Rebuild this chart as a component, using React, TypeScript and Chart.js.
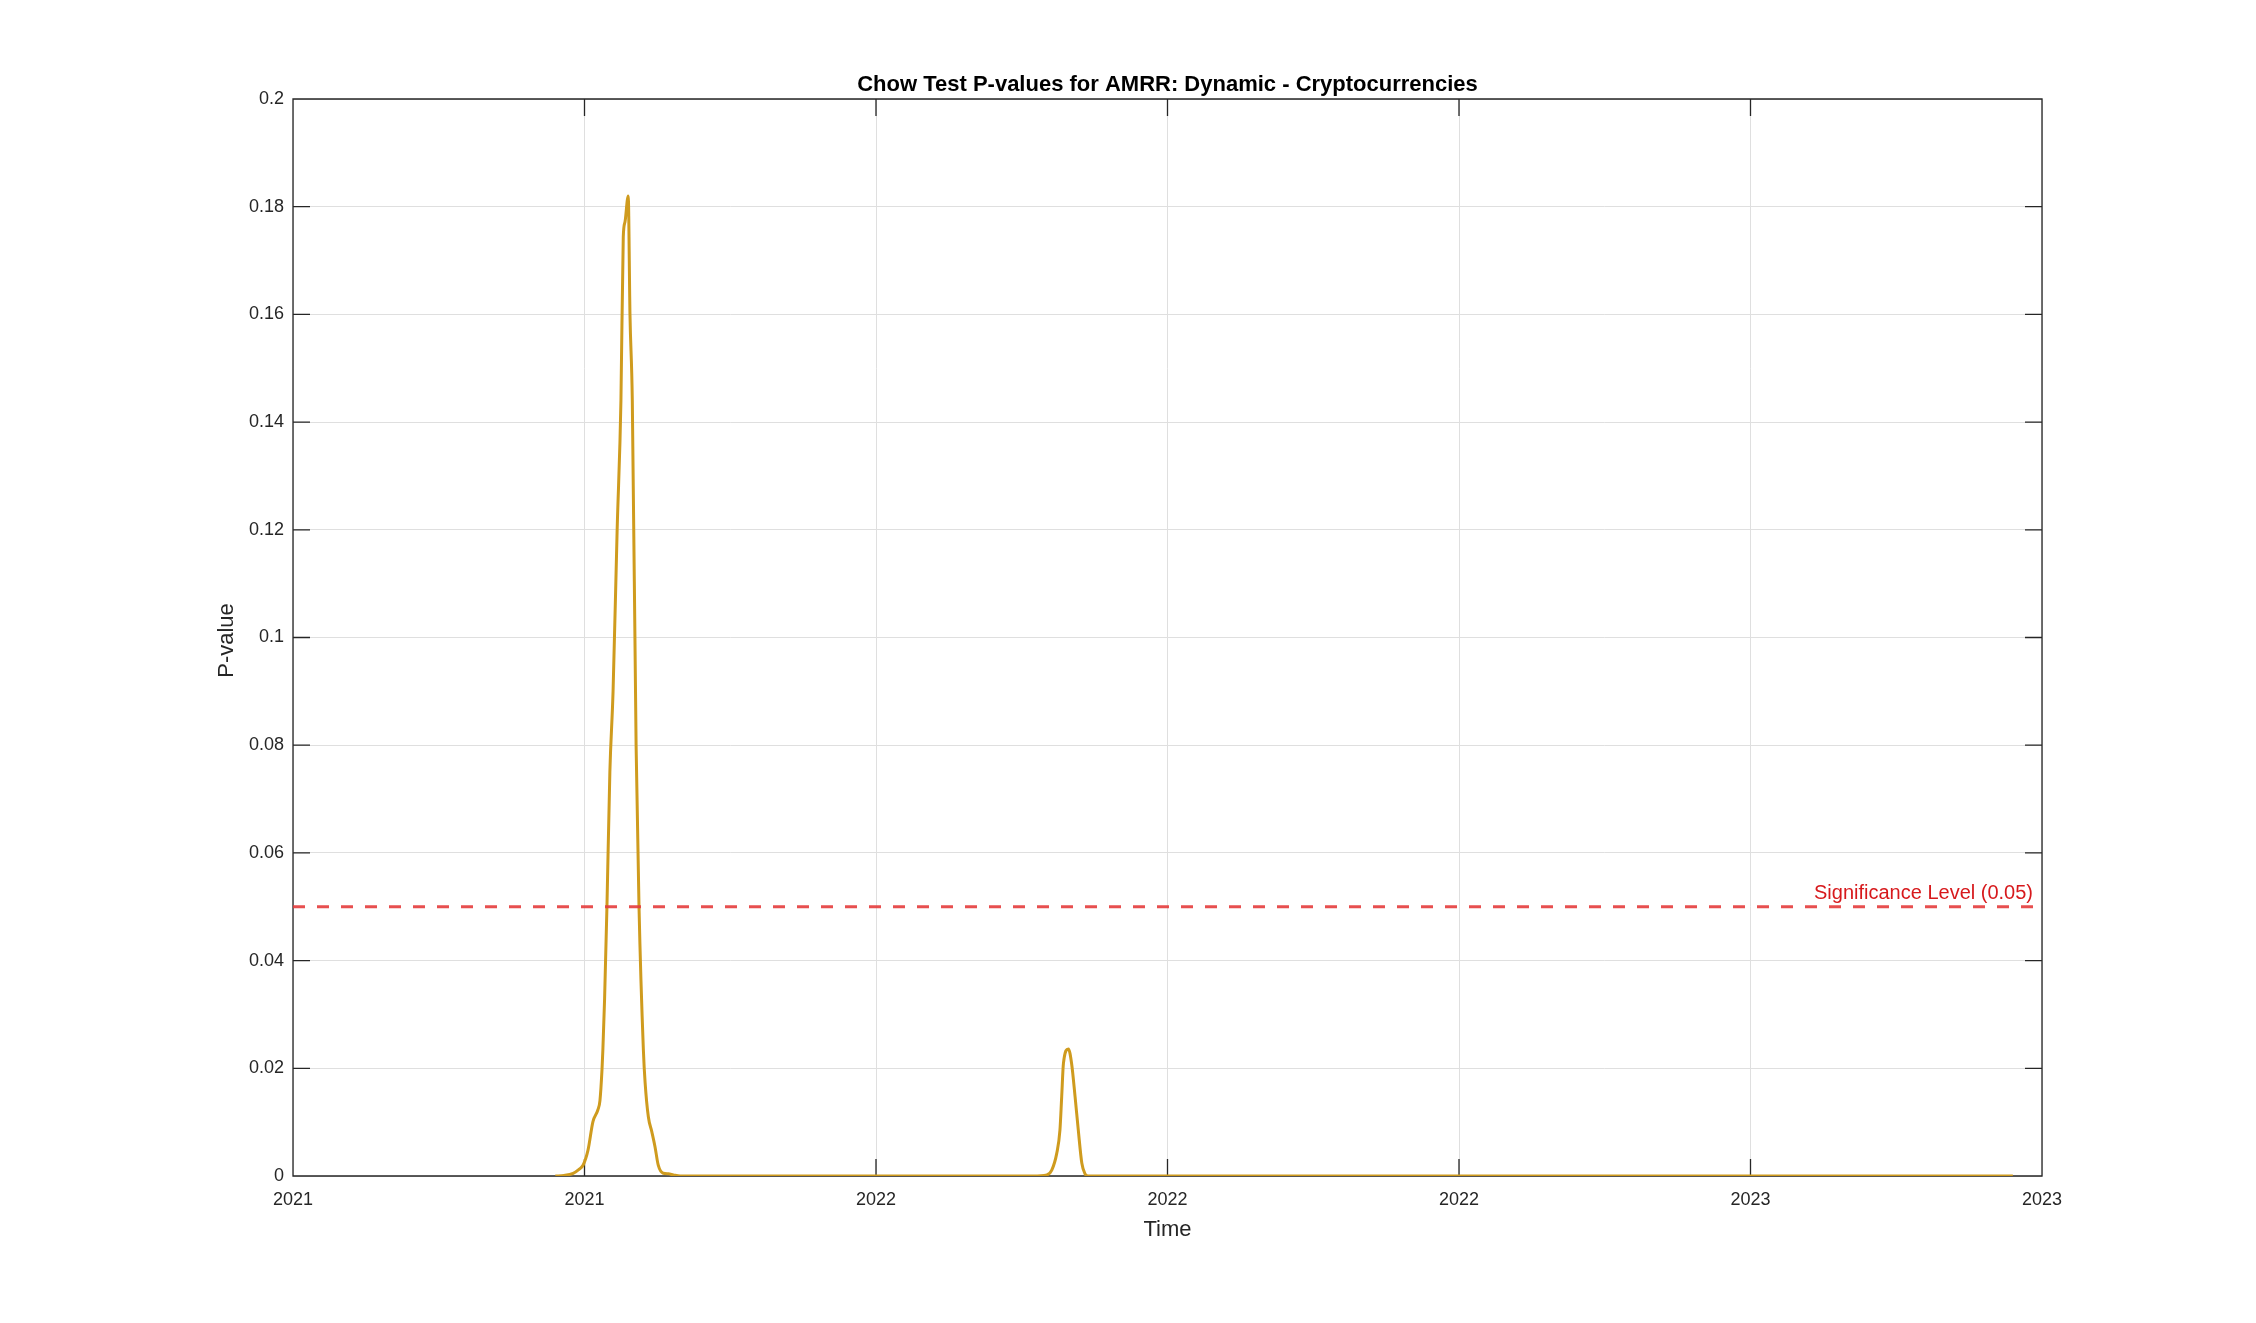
import React, { useEffect, useRef } from "react";
import { Chart, registerables } from "chart.js";

Chart.register(...registerables);

// ---- Data ----
// x positions are expressed in units of the time-axis tick intervals (tick 0 .. tick 6)
const xTickValues = [0, 1, 2, 3, 4, 5, 6];
const xTickLabels = ["2021", "2021", "2022", "2022", "2022", "2023", "2023"];
const yTickValues = [0, 0.02, 0.04, 0.06, 0.08, 0.1, 0.12, 0.14, 0.16, 0.18, 0.2];
const yTickLabels = ["0", "0.02", "0.04", "0.06", "0.08", "0.1", "0.12", "0.14", "0.16", "0.18", "0.2"];

const timePositions = [
  0.9, 0.93, 0.961, 0.98, 0.995, 1.012, 1.029, 1.046, 1.053, 1.06, 1.063, 1.069, 1.077, 1.087,
  1.098, 1.112, 1.125, 1.133, 1.139, 1.15, 1.156, 1.164, 1.177, 1.187, 1.202, 1.208, 1.219,
  1.231, 1.242, 1.253, 1.27, 1.288, 1.305, 1.328, 1.4, 2.0, 2.539, 2.586, 2.603, 2.62, 2.631,
  2.637, 2.643, 2.66, 2.671, 2.683, 2.694, 2.706, 2.717, 2.728, 3.5, 4.5, 5.9,
];
const pValues = [
  0, 0.0001, 0.0005, 0.0012, 0.002, 0.0048, 0.0101, 0.0123, 0.014, 0.0197, 0.0234, 0.033, 0.05,
  0.075, 0.09, 0.12, 0.144, 0.1744, 0.1772, 0.182, 0.16, 0.144, 0.08, 0.05, 0.0234, 0.0173,
  0.011, 0.0082, 0.0054, 0.002, 0.0005, 0.0004, 0.0002, 0, 0, 0, 0, 0.0002, 0.0011, 0.0042,
  0.0085, 0.0147, 0.0209, 0.0236, 0.0209, 0.0147, 0.0085, 0.0024, 0.0004, 0, 0, 0, 0,
];
const significanceLevel = 0.05;

const TITLE = "Chow Test P-values for AMRR: Dynamic - Cryptocurrencies";
const X_LABEL = "Time";
const Y_LABEL = "P-value";
const SIG_LABEL = "Significance Level (0.05)";

const FONT = '"Liberation Sans", Arial, Helvetica, sans-serif';
const AXIS_COLOR = "#262626";

const decorPlugin = {
  id: "matlabDecor",
  beforeDatasetsDraw(chart: any) {
    const { ctx, chartArea } = chart;
    const { left, right, top, bottom } = chartArea;
    const xs = chart.scales.x;
    const ys = chart.scales.y;
    const tl = 17;
    ctx.save();
    ctx.strokeStyle = AXIS_COLOR;
    ctx.lineWidth = 1.3;
    ctx.beginPath();
    ctx.rect(left, top, right - left, bottom - top);
    for (const v of yTickValues) {
      const py = ys.getPixelForValue(v);
      ctx.moveTo(left, py);
      ctx.lineTo(left + tl, py);
      ctx.moveTo(right, py);
      ctx.lineTo(right - tl, py);
    }
    for (const v of xTickValues) {
      const px = xs.getPixelForValue(v);
      ctx.moveTo(px, bottom);
      ctx.lineTo(px, bottom - tl);
      ctx.moveTo(px, top);
      ctx.lineTo(px, top + tl);
    }
    ctx.stroke();
    ctx.restore();
  },
  afterDraw(chart: any) {
    const { ctx, chartArea } = chart;
    const { left, right, top, bottom } = chartArea;
    const ys = chart.scales.y;
    const cx = (left + right) / 2;
    ctx.save();
    // title
    ctx.fillStyle = "#000000";
    ctx.font = `bold 22px ${FONT}`;
    ctx.textAlign = "center";
    ctx.textBaseline = "alphabetic";
    ctx.fillText(TITLE, cx, 91);
    // x label
    ctx.fillStyle = AXIS_COLOR;
    ctx.font = `22px ${FONT}`;
    ctx.fillText(X_LABEL, cx, 1236);
    // y label
    ctx.save();
    ctx.translate(227, (top + bottom) / 2 + 3);
    ctx.rotate(-Math.PI / 2);
    ctx.textBaseline = "middle";
    ctx.fillText(Y_LABEL, 0, 0);
    ctx.restore();
    // significance label
    ctx.fillStyle = "#D7191C";
    ctx.font = `20px ${FONT}`;
    ctx.textAlign = "right";
    ctx.textBaseline = "alphabetic";
    ctx.fillText(SIG_LABEL, right - 9, ys.getPixelForValue(significanceLevel) - 8);
    ctx.restore();
  },
};

export default function App() {
  const ref = useRef<HTMLCanvasElement | null>(null);

  useEffect(() => {
    document.body.style.margin = "0";
    const canvas = ref.current;
    if (!canvas) return;
    const lineData = timePositions.map((x, i) => ({ x, y: pValues[i] }));
    const sigData = [
      { x: xTickValues[0], y: significanceLevel },
      { x: xTickValues[xTickValues.length - 1], y: significanceLevel },
    ];
    const chart = new Chart(canvas, {
      type: "line",
      data: {
        datasets: [
          {
            data: lineData,
            borderColor: "#CF9B1E",
            borderWidth: 3,
            pointRadius: 0,
            cubicInterpolationMode: "monotone",
            fill: false,
            order: 2,
          },
          {
            data: sigData,
            borderColor: "rgba(228, 60, 60, 0.9)",
            borderWidth: 3,
            borderDash: [12, 12],
            pointRadius: 0,
            fill: false,
            order: 1,
          },
        ],
      },
      options: {
        responsive: false,
        animation: false,
        devicePixelRatio: 1,
        layout: { padding: { top: 99, right: 214, left: 0, bottom: 0 } },
        plugins: {
          legend: { display: false },
          title: { display: false },
          tooltip: { enabled: false },
        },
        scales: {
          x: {
            type: "linear",
            min: 0,
            max: 6,
            border: { display: false },
            grid: { color: "#dfdfdf", lineWidth: 1, drawTicks: false },
            afterBuildTicks: (scale: any) => {
              scale.ticks = xTickValues.map((v) => ({ value: v }));
            },
            afterFit: (scale: any) => {
              scale.height = 147;
            },
            ticks: {
              autoSkip: false,
              maxRotation: 0,
              padding: 13,
              color: AXIS_COLOR,
              font: { family: FONT, size: 18 },
              callback: (_v: any, i: number) => xTickLabels[i],
            },
          },
          y: {
            type: "linear",
            min: 0,
            max: 0.2,
            border: { display: false },
            grid: { color: "#dfdfdf", lineWidth: 1, drawTicks: false },
            afterBuildTicks: (scale: any) => {
              scale.ticks = yTickValues.map((v) => ({ value: v }));
            },
            afterFit: (scale: any) => {
              scale.width = 293;
            },
            ticks: {
              autoSkip: false,
              padding: 9,
              color: AXIS_COLOR,
              font: { family: FONT, size: 18 },
              callback: (_v: any, i: number) => yTickLabels[i],
            },
          },
        },
      },
      plugins: [decorPlugin],
    } as any);
    return () => chart.destroy();
  }, []);

  return (
    <div style={{ width: 2256, height: 1323, background: "#ffffff" }}>
      <canvas ref={ref} width={2256} height={1323} style={{ display: "block" }} />
    </div>
  );
}
